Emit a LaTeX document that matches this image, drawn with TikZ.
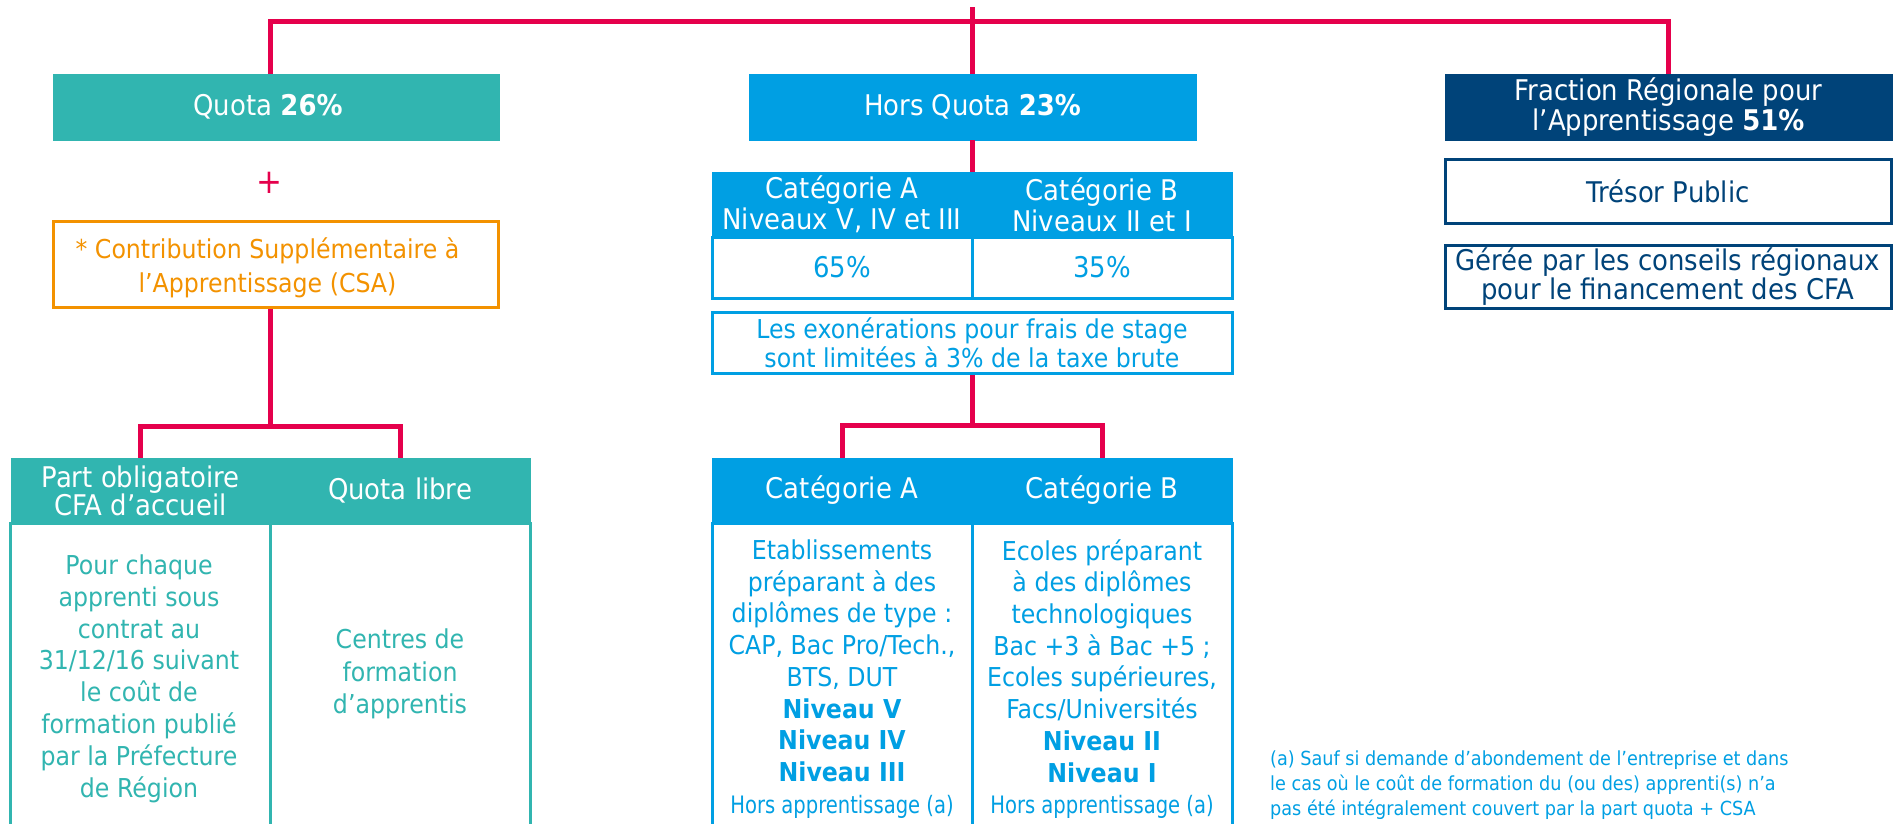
\documentclass[tikz,border=0pt]{standalone}
\usepackage{fontspec}
\setmainfont{DejaVu Sans}[FakeStretch=0.91]
\newfontfamily\narrowfont{DejaVu Sans}[FakeStretch=0.815]
\usetikzlibrary{calc}
\definecolor{myred}{HTML}{E5004C}
\definecolor{myteal}{HTML}{31B5B0}
\definecolor{myblue}{HTML}{009FE3}
\definecolor{mynavy}{HTML}{004379}
\definecolor{myorange}{HTML}{F39200}
\newcommand\fsz[2]{\fontsize{#1}{#2}\selectfont}
\begin{document}
\begin{tikzpicture}[x=1pt,y=-1pt,
  fillbox/.style={fill=#1, draw=#1, line width=0.4pt, text=white, inner sep=0pt, align=center},
  framebox/.style={draw=#1, line width=3pt, fill=white, text=#1, inner sep=0pt, align=center},
  plaintext/.style={text=#1, inner sep=0pt, align=center},
  redline/.style={draw=myred, line width=5pt},
  hdr/.style={font={\fsz{28.5}{31}}},
  bdy/.style={font={\fsz{26}{31.7}}}
]
\useasboundingbox (0,0) rectangle (1893,823);

% ---- Quota column
\node[fillbox=myteal, minimum width=446, minimum height=66] (quota) at (276,107) {};
\node[plaintext=white, hdr] (quotatxt) at (268,107) {Quota \textbf{26\%}};
\node[plaintext=myred, font={\fsz{34}{34}}] (plus) at (269,183) {+};
\node[framebox=myorange, minimum width=445, minimum height=86] (csa) at (276,264) {};
\node[plaintext=myorange, font={\fsz{26}{34.5}}] (csatxt) at (267.5,268) {* Contribution Supplémentaire à\\l’Apprentissage (CSA)};

% left table
\node[fillbox=myteal, hdr, minimum width=259.5, minimum height=65, font={\fsz{28.5}{28}}] (hL1) at (140.5,490.5) {Part obligatoire\\CFA d’accueil};
\node[fillbox=myteal, hdr, minimum width=260, minimum height=65] (hL2) at (400,490.5) {Quota libre};
\node[framebox=myteal, minimum width=259.5, minimum height=322] (bL1) at (140.5,684) {};
\node[framebox=myteal, minimum width=260, minimum height=322] (bL2) at (400,684) {};
\node[plaintext=myteal, font={\fsz{26}{31.9}}] (tL1) at (139,678.7) {Pour chaque\\apprenti sous\\contrat au\\31/12/16 suivant\\le coût de\\formation publié\\par la Préfecture\\de Région};
\node[plaintext=myteal, font={\fsz{26}{32.5}}] (tL2) at (400,674) {Centres de\\formation\\d’apprentis};

% ---- Hors quota column
\node[fillbox=myblue, hdr, minimum width=447, minimum height=66] (hq) at (972.5,107) {Hors Quota \textbf{23\%}};
\node[fillbox=myblue, hdr, minimum width=260, minimum height=65] (catAh) at (842,204.5) {Catégorie A\\Niveaux V, IV et III};
\node[fillbox=myblue, hdr, minimum width=260, minimum height=65] (catBh) at (1102,204.5) {Catégorie B\\Niveaux II et I};
\node[framebox=myblue, hdr, minimum width=260, minimum height=61] (catAp) at (842,267.5) {65\%};
\node[framebox=myblue, hdr, minimum width=260, minimum height=61] (catBp) at (1102,267.5) {35\%};
\node[framebox=myblue, minimum width=520, minimum height=61, font={\fsz{26}{29}}] (exo) at (972,342.5) {Les exonérations pour frais de stage\\sont limitées à 3\% de la taxe brute};

\node[fillbox=myblue, hdr, minimum width=260, minimum height=65] (hA) at (842,490.5) {Catégorie A};
\node[fillbox=myblue, hdr, minimum width=260, minimum height=65] (hB) at (1102,490.5) {Catégorie B};
\node[framebox=myblue, minimum width=260, minimum height=322] (bA) at (842,684) {};
\node[framebox=myblue, minimum width=260, minimum height=322] (bB) at (1102,684) {};
\node[plaintext=myblue, bdy] (tA) at (842,679) {Etablissements\\préparant à des\\diplômes de type :\\CAP, Bac Pro/Tech.,\\BTS, DUT\\\textbf{Niveau V}\\\textbf{Niveau IV}\\\textbf{Niveau III}\\{\narrowfont\fsz{24}{31.7}Hors apprentissage (a)}};
\node[plaintext=myblue, bdy] (tB) at (1102,679) {Ecoles préparant\\à des diplômes\\technologiques\\Bac +3 à Bac +5 ;\\Ecoles supérieures,\\Facs/Universités\\\textbf{Niveau II}\\\textbf{Niveau I}\\{\narrowfont\fsz{24}{31.7}Hors apprentissage (a)}};

% ---- Regional column
\node[fillbox=mynavy, minimum width=447, minimum height=66, font={\fsz{28.5}{30}}] (frac) at (1668.5,107) {Fraction Régionale pour\\l’Apprentissage \textbf{51\%}};
\node[framebox=mynavy, hdr, minimum width=446, minimum height=64] (tresor) at (1668,191) {Trésor Public};
\node[framebox=mynavy, minimum width=446, minimum height=63, font={\fsz{28.5}{29}}] (geree) at (1668,276.5) {Gérée par les conseils régionaux\\pour le financement des CFA};

% footnote
\node[plaintext=myblue, align=left, anchor=west, font={\fsz{19.4}{25}}] (note) at (1270,785) {(a) Sauf si demande d’abondement de l’entreprise et dans\\le cas où le coût de formation du (ou des) apprenti(s) n’a\\pas été intégralement couvert par la part quota + CSA};

% ---- red connectors
\coordinate (ttop) at (972.5,7);
\coordinate (tbar) at (972.5,21);
\coordinate (jL) at (270,426);
\coordinate (jM) at (972,425);
\draw[redline] (quota.north -| jL) |- (tbar) -| (frac.north);
\draw[redline] (ttop) -- (hq.north);
\draw[redline] (hq.south) -- (hq.south |- catAh.north);
\draw[redline] (csa.south -| jL) -- (jL);
\draw[redline] (hL1.north) |- (jL) -| (hL2.north);
\draw[redline] (exo.south) -- (jM);
\draw[redline] (hA.north) |- (jM) -| (hB.north);
\end{tikzpicture}
\end{document}
